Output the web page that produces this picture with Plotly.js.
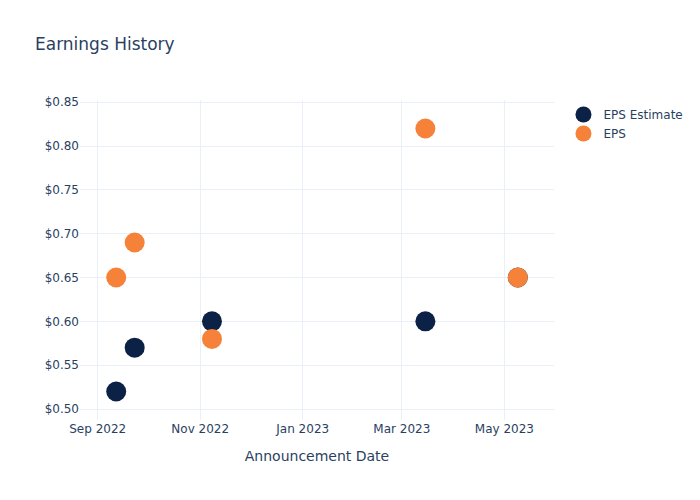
<!DOCTYPE html>
<html>
<head>
<meta charset="utf-8">
<script src="https://cdn.plot.ly/plotly-3.0.1.min.js"></script>
<style>html,body{margin:0;padding:0;}#chart{width:700px;height:500px;}</style>
</head>
<body>
<div id="chart"></div>
<script>
var dates = ["2022-09-12", "2022-09-23", "2022-11-08", "2023-03-15", "2023-05-09"];
var epsEstimate = [0.52, 0.57, 0.60, 0.60, 0.65];
var epsActual = [0.65, 0.69, 0.58, 0.82, 0.65];

var traces = [
  {x: dates, y: epsEstimate, name: "EPS Estimate", type: "scatter", mode: "markers",
   marker: {size: 20, color: "#0c2146"}},
  {x: dates, y: epsActual, name: "EPS", type: "scatter", mode: "markers",
   marker: {size: 20, color: "#f6823a"}}
];
var layout = {
  template: "plotly_white",
  width: 700, height: 500,
  margin: {t: 100, b: 80, l: 80, r: 80},
  title: {text: "Earnings History", x: 0.05, xanchor: "left"},
  font: {family: "DejaVu Sans, sans-serif", color: "#2a3f5f"},
  xaxis: {title: {text: "Announcement Date", standoff: 16}, type: "date", gridcolor: "#EBF0F8",
          zeroline: false},
  yaxis: {tickprefix: "$", tickformat: ".2f", gridcolor: "#EBF0F8", zeroline: false},
  plot_bgcolor: "white", paper_bgcolor: "white"
};
Plotly.newPlot("chart", traces, layout, {displayModeBar: false});
</script>
</body>
</html>
